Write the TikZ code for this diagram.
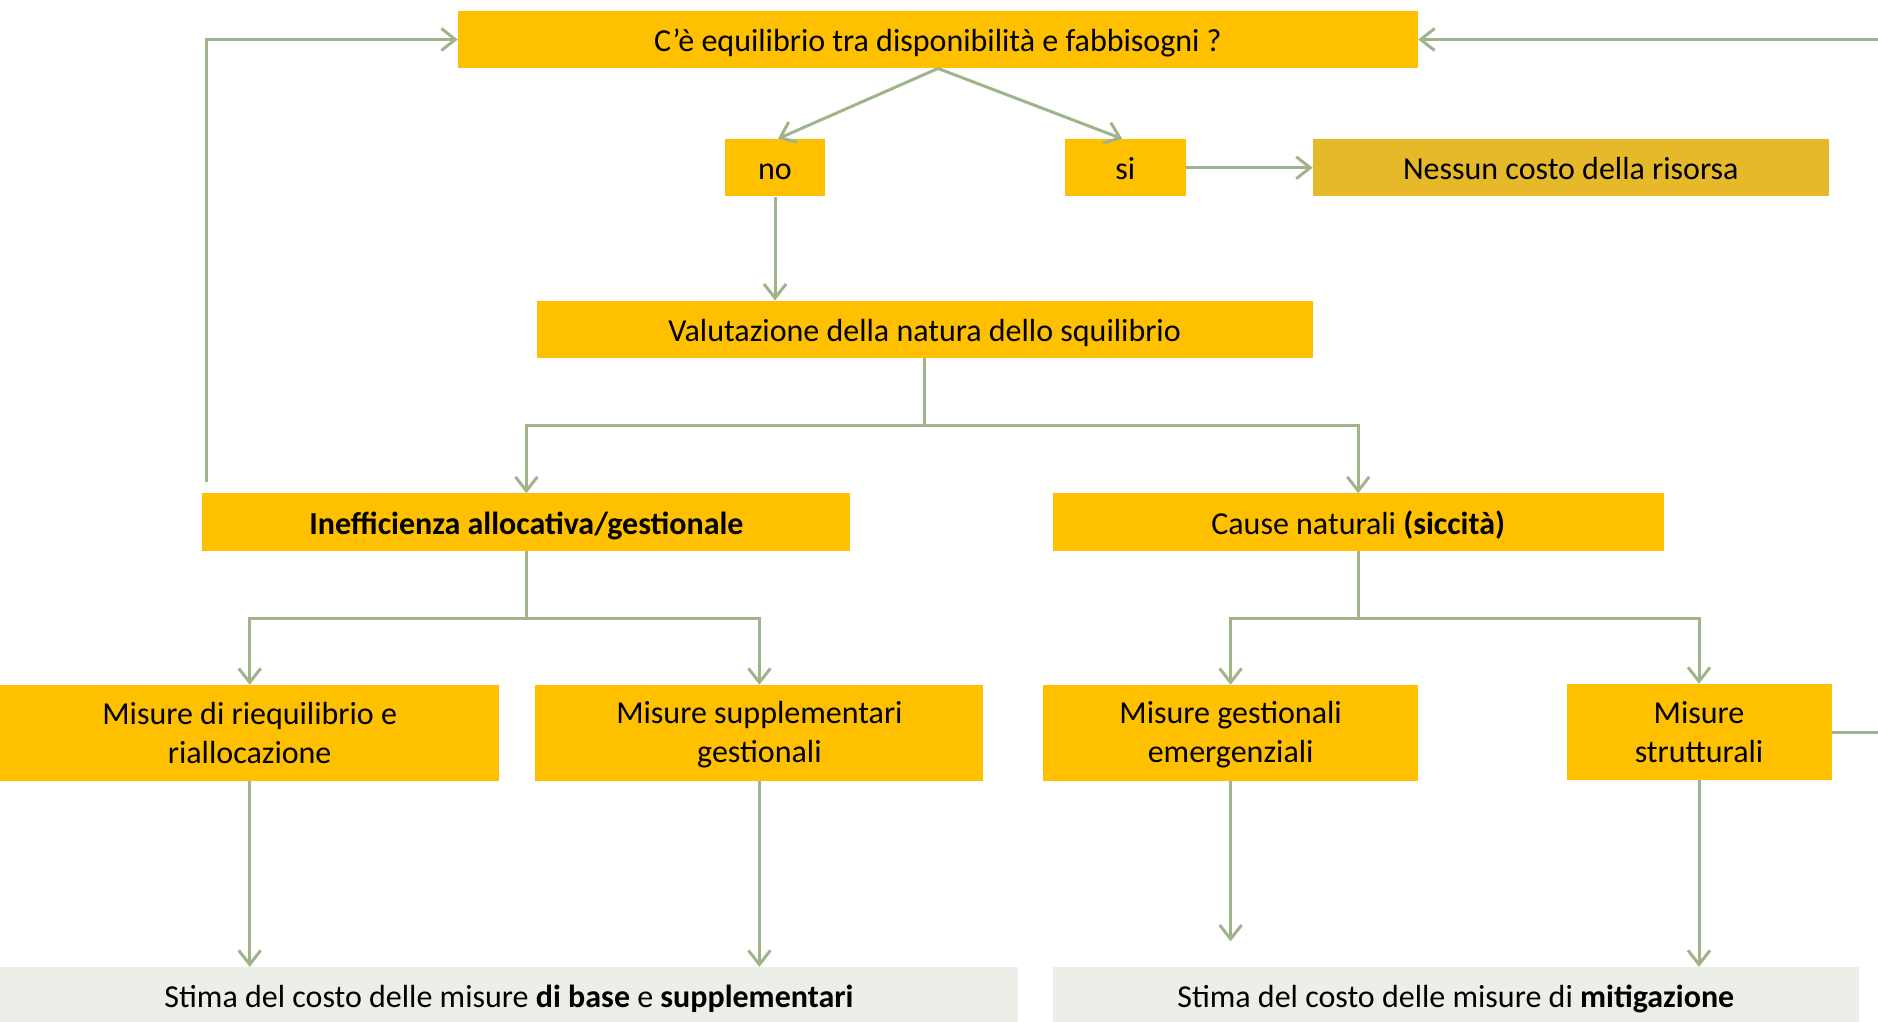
\documentclass[tikz,border=0pt]{standalone}
\usepackage{fontspec}
\setmainfont{Carlito}
\usetikzlibrary{arrows.meta}
\definecolor{gold}{RGB}{255,192,0}
\definecolor{golddark}{RGB}{230,185,42}
\definecolor{graybox}{RGB}{236,238,232}
\definecolor{conn}{RGB}{160,180,140}
\begin{document}
\begin{tikzpicture}[x=1pt,y=-1pt,
  box/.style={fill=gold, inner sep=0pt, minimum height=57.5pt, align=center,
    font=\fontsize{32}{38.5}\selectfont},
  onel/.style={text height=29pt, text depth=5pt},
  gbox/.style={fill=graybox, inner sep=0pt, minimum height=56pt, align=center,
    font=\fontsize{32}{38.5}\selectfont, text height=29pt, text depth=5pt},
  arr/.style={draw=conn, line width=3pt,
    -{Straight Barb[length=14pt,width=22pt,line width=3pt]}},
  ln/.style={draw=conn, line width=3pt}]
\useasboundingbox (0,0) rectangle (1878,1021);
% nodes
\node[box, onel, minimum width=960pt] (q) at (938,39.5) {C’è equilibrio tra disponibilità e fabbisogni ?};
\node[box, onel, minimum width=100.6pt] (no) at (775,167.7) {no};
\node[box, onel, minimum width=121pt] (si) at (1125.2,167.7) {si};
\node[box, onel, fill=golddark, minimum width=516pt] (nc) at (1570.8,167.7) {Nessun costo della risorsa};
\node[box, onel, minimum width=776pt] (val) at (924.6,329.4) {Valutazione della natura dello squilibrio};
\node[box, onel, minimum width=648pt] (ineff) at (526.4,522.2) {\bfseries Inefficienza allocativa/gestionale};
\node[box, onel, minimum width=611pt] (cause) at (1358.2,522.2) {Cause naturali \textbf{(siccità)}};
\node[box, minimum width=499.4pt, minimum height=96pt] (riq) at (249.7,733) {Misure di riequilibrio e\\riallocazione};
\node[box, minimum width=448pt, minimum height=96pt] (sup) at (759.4,733) {\rule{0pt}{25pt}Misure supplementari\\gestionali};
\node[box, minimum width=375pt, minimum height=96pt] (emg) at (1230.6,733) {\rule{0pt}{25pt}Misure gestionali\\emergenziali};
\node[box, minimum width=265pt, minimum height=96pt] (str) at (1699,732) {Misure\\strutturali};
\node[gbox, minimum width=1018pt] (stL) at (509,995) {Stima del costo delle misure \textbf{di base} e \textbf{supplementari}};
\node[gbox, minimum width=806pt] (stR) at (1455.8,995) {Stima del costo delle misure di \textbf{mitigazione}};
% coordinates
\coordinate (j1) at (924.6,425.2);
\coordinate (j2) at (526.4,618);
\coordinate (j3) at (1358.2,618);
\coordinate (lb) at (206,481.5);
\coordinate (emgEnd) at (1230.6,941.4);
% connectors
\draw[arr] (q.south) -- ([xshift=3pt]no.north);
\draw[arr] (q.south) -- ([xshift=-3pt]si.north);
\draw[arr] (si.east) -- (nc.west);
\draw[arr] (no.south) -- (no.south |- val.north);
\draw[ln] (val.south) -- (j1);
\draw[arr] (j1) -| (ineff.north);
\draw[arr] (j1) -| (cause.north);
\draw[arr] (lb) |- (q.west);
\draw[arr] (str.east) -- ++(70,0) |- (q.east);
\draw[ln] (ineff.south) -- (j2);
\draw[arr] (j2) -| (riq.north);
\draw[arr] (j2) -| (sup.north);
\draw[ln] (cause.south) -- (j3);
\draw[arr] (j3) -| (emg.north);
\draw[arr] (j3) -| (str.north);
\draw[arr] (riq.south) -- (riq.south |- stL.north);
\draw[arr] (sup.south) -- (sup.south |- stL.north);
\draw[arr] (emg.south) -- (emgEnd);
\draw[arr] (str.south) -- (str.south |- stR.north);
\end{tikzpicture}
\end{document}
